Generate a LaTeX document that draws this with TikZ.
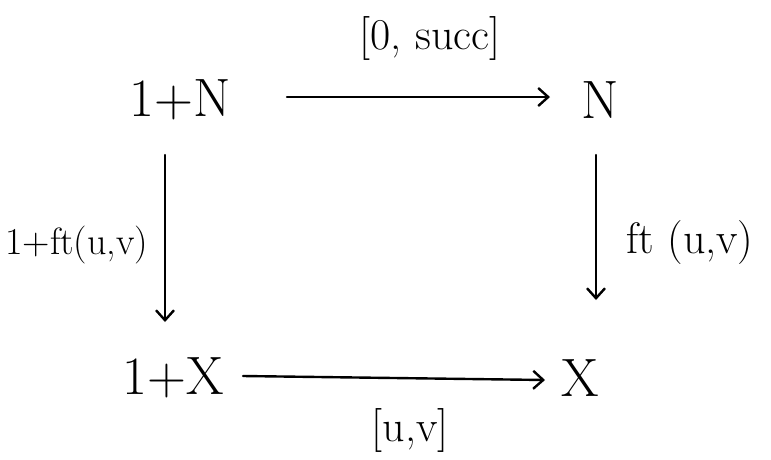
\documentclass[tikz,border=0pt]{standalone}
\usepackage{fontspec}
\usetikzlibrary{arrows.meta}
\begin{document}
\begin{tikzpicture}[x=1pt,y=-1pt,
  obj/.style={inner sep=2pt,font=\fontsize{54}{60}\selectfont},
  lab/.style={inner sep=2pt,font=\fontsize{44}{50}\selectfont},
  arr/.style={line width=2.4pt,line cap=round,-{Straight Barb[length=10pt,width=18pt,line width=2.4pt]}}]
\useasboundingbox (0,0) rectangle (771,459);
\node[obj] (oN) at (180,100) {1+N};
\node[obj] (N) at (600,100) {N};
\node[obj] (oX) at (173,378) {1+X};
\node[obj] (X) at (580,378) {X};
\coordinate (a1) at (287,97); \coordinate (a2) at (550,97);
\coordinate (b1) at (165,155); \coordinate (b2) at (165,322);
\coordinate (c1) at (596,155); \coordinate (c2) at (596,300);
\coordinate (d1) at (243,376); \coordinate (d2) at (545,380);
\draw[arr] (a1) -- (a2);
\draw[arr] (b1) -- (b2);
\draw[arr] (c1) -- (c2);
\draw[arr] (d1) -- (d2);
\node[lab] (lt) at (430,38) {[0, succ]};
\node[lab,font=\fontsize{38}{44}\selectfont,anchor=west,inner sep=0pt] (ll) at (5,245) {1+ft(u,v)};
\node[lab] (lr) at (690,243) {ft (u,v)};
\node[lab] (lb) at (410,430) {[u,v]};
\end{tikzpicture}
\end{document}
